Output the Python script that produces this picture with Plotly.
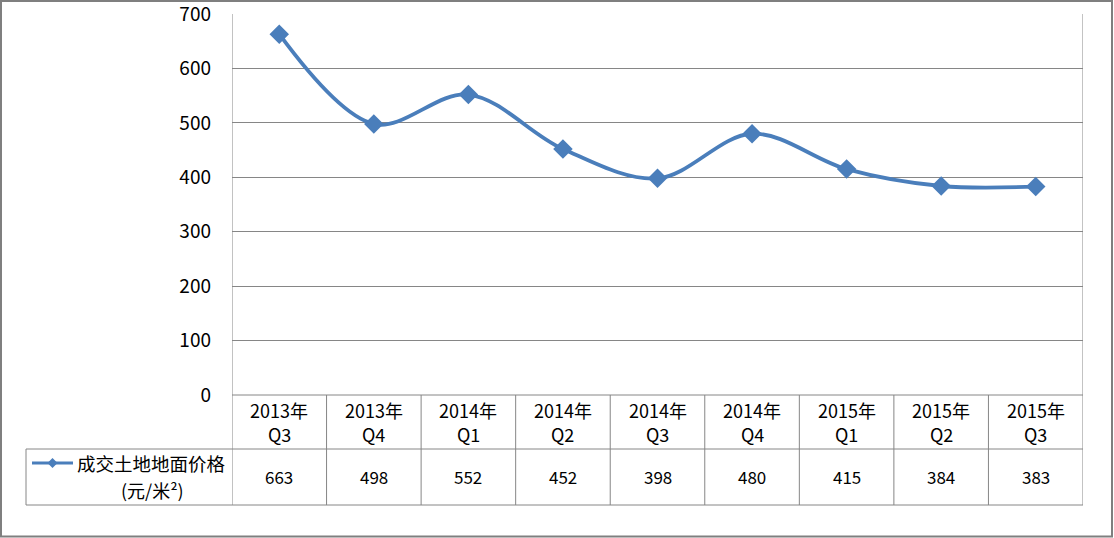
import plotly.graph_objects as go

categories_year = ["2013年", "2013年", "2014年", "2014年", "2014年", "2014年", "2015年", "2015年", "2015年"]
categories_q = ["Q3", "Q4", "Q1", "Q2", "Q3", "Q4", "Q1", "Q2", "Q3"]
values = [663, 498, 552, 452, 398, 480, 415, 384, 383]
series_name = "成交土地地面价格"
series_unit = "(元/米²)"
y_ticks = [0, 100, 200, 300, 400, 500, 600, 700]

W, H = 1114, 538
L, R, T, B = 232, 1083, 14, 395
pw, ph = R - L, B - T

def px(xpix):
    return (xpix - L) / pw

def py(ypix):
    return (B - ypix) / ph

FONT = "Noto Sans CJK SC, Liberation Sans, sans-serif"
LINE_C = "#4A7EBB"
GRID_C = "#868686"
n = len(values)
xs = list(range(n))

fig = go.Figure()
fig.add_trace(go.Scatter(
    x=xs, y=values, mode="lines+markers",
    line=dict(color=LINE_C, width=3.8, shape="spline", smoothing=1.0),
    marker=dict(symbol="diamond", size=15, color=LINE_C),
    showlegend=False, cliponaxis=False, hoverinfo="skip"))

shapes = []
for i in range(n + 1):
    shapes.append(dict(type="line", xref="x", yref="paper",
                       x0=i - 0.5, x1=i - 0.5, y0=py(505), y1=(0 if 0 < i < n else 1),
                       line=dict(color=GRID_C, width=1)))
shapes.append(dict(type="line", xref="paper", yref="paper", x0=0, x1=1, y0=0, y1=0,
                   line=dict(color=GRID_C, width=1)))
for yp in (449, 505):
    shapes.append(dict(type="line", xref="paper", yref="paper", x0=px(26), x1=1,
                       y0=py(yp), y1=py(yp), line=dict(color=GRID_C, width=1)))
shapes.append(dict(type="line", xref="paper", yref="paper", x0=px(26), x1=px(26),
                   y0=py(449), y1=py(505), line=dict(color=GRID_C, width=1)))
shapes.append(dict(type="line", xref="paper", yref="paper", x0=px(32), x1=px(73),
                   y0=py(463), y1=py(463), line=dict(color=LINE_C, width=3)))
cx, cy, d = 52.5, 463, 5
path = "M {} {} L {} {} L {} {} L {} {} Z".format(
    px(cx), py(cy - d), px(cx + d), py(cy), px(cx), py(cy + d), px(cx - d), py(cy))
shapes.append(dict(type="path", xref="paper", yref="paper", path=path,
                   fillcolor=LINE_C, line=dict(color=LINE_C, width=0)))
shapes.append(dict(type="rect", xref="paper", yref="paper", x0=px(1), x1=px(1112),
                   y0=py(536.5), y1=py(1), line=dict(color="#7F7F7F", width=2)))

annotations = []
tf = dict(family=FONT, size=18, color="#000")
for i in range(n):
    annotations.append(dict(x=i, y=py(410), xref="x", yref="paper", text=categories_year[i],
                            showarrow=False, font=tf, yanchor="middle", xanchor="center"))
    annotations.append(dict(x=i, y=py(434), xref="x", yref="paper", text=categories_q[i],
                            showarrow=False, font=tf, yanchor="middle", xanchor="center"))
    annotations.append(dict(x=i, y=py(477), xref="x", yref="paper", text=str(values[i]),
                            showarrow=False, font=dict(family=FONT, size=17, color="#000"),
                            yanchor="middle", xanchor="center"))
annotations.append(dict(x=px(75), y=py(463), xref="paper", yref="paper", text=series_name,
                        showarrow=False, font=dict(family=FONT, size=18.5, color="#000"),
                        xanchor="left", yanchor="middle"))
annotations.append(dict(x=px(152), y=py(490), xref="paper", yref="paper", text=series_unit,
                        showarrow=False, font=dict(family=FONT, size=18, color="#000"),
                        xanchor="center", yanchor="middle"))

fig.update_layout(
    width=W, height=H,
    margin=dict(l=L, r=W - R, t=T, b=H - B, pad=0, autoexpand=False),
    paper_bgcolor="white", plot_bgcolor="white",
    xaxis=dict(range=[-0.5, n - 0.5], showticklabels=False, showgrid=False,
               zeroline=False, showline=False, ticks="", automargin=False),
    yaxis=dict(range=[0, 700], tickvals=y_ticks, showgrid=True, gridcolor=GRID_C,
               gridwidth=1, zeroline=False, showline=False, ticks="", automargin=False,
               ticklabelstandoff=20, ticklabeloverflow="allow",
               tickfont=dict(family=FONT, size=19, color="#000")),
    shapes=shapes, annotations=annotations,
)

fig.write_html("out.html", config={"displayModeBar": False},
               post_script="document.body.style.margin='0';document.body.style.padding='0';")
